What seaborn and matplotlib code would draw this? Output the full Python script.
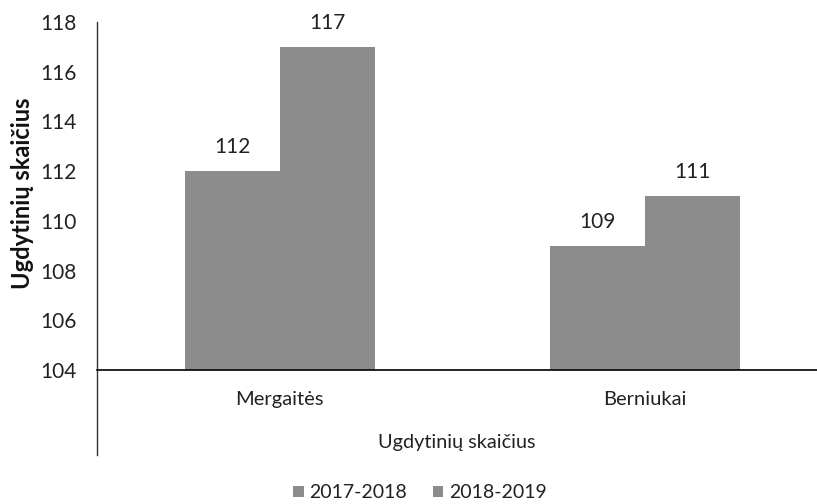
import matplotlib.pyplot as plt
import seaborn as sns
import pandas as pd

# data
groups = ['Mergaitės', 'Berniukai']
years = ['2017-2018', '2018-2019']
vals_2017 = [112, 109]
vals_2018 = [117, 111]
yticks = [104, 106, 108, 110, 112, 114, 116, 118]

df = pd.DataFrame({
    'grupe': groups * 2,
    'metai': [years[0]] * len(groups) + [years[1]] * len(groups),
    'skaicius': vals_2017 + vals_2018,
})

sns.set_theme(style='white')
plt.rcParams['font.family'] = ['Lato', 'DejaVu Sans']

base = yticks[0]
fig = plt.figure(figsize=(8.17, 5.04), dpi=100)
ax = fig.add_axes([97 / 817, 1 - 455 / 504, 720 / 817, 433 / 504])

sns.barplot(data=df, x='grupe', y='skaicius', hue='metai',
            palette=['#8c8c8c', '#8c8c8c'], saturation=1, width=0.52,
            linewidth=0, ax=ax)

# bars start at the axis crossing value (104), like the Excel original
for cont in ax.containers:
    for p in cont:
        h = p.get_height()
        p.set_y(base)
        p.set_height(h - base)
    ax.bar_label(cont, fmt='%d', padding=10, fontsize=15, color='#222222')

handles, labels = ax.get_legend_handles_labels()
ax.get_legend().remove()

ax.set_xlim(-0.5, 1.47)
ax.set_ylim(100.58, 118)
ax.set_yticks(yticks)
ax.tick_params(axis='y', length=0, pad=15, labelsize=15, labelcolor='#222222')
ax.tick_params(axis='x', length=0, pad=15, labelsize=14.5, labelcolor='#222222')

for s in ['top', 'right']:
    ax.spines[s].set_visible(False)
ax.spines['bottom'].set_position(('data', base))
ax.spines['bottom'].set_color('black')
ax.spines['bottom'].set_linewidth(1.2)
ax.spines['left'].set_color('#333333')
ax.spines['left'].set_linewidth(1.0)

ax.set_xlabel('Ugdytinių skaičius', fontsize=14.3, color='#222222')
ax.xaxis.set_label_coords(0.5, 0.048)
ax.set_ylabel('Ugdytinių skaičius', fontsize=17, fontweight='bold', color='#111111')
ax.yaxis.set_label_coords(-0.088, 0.605)

fig.legend(handles, labels, loc='center', bbox_to_anchor=(420 / 817, 1 - 493 / 504),
           ncol=2, frameon=False, fontsize=14, handlelength=0.55, handleheight=0.55,
           handletextpad=0.3, columnspacing=1.3, labelcolor='#222222')

fig.savefig('out.png', dpi=100, facecolor='white')
